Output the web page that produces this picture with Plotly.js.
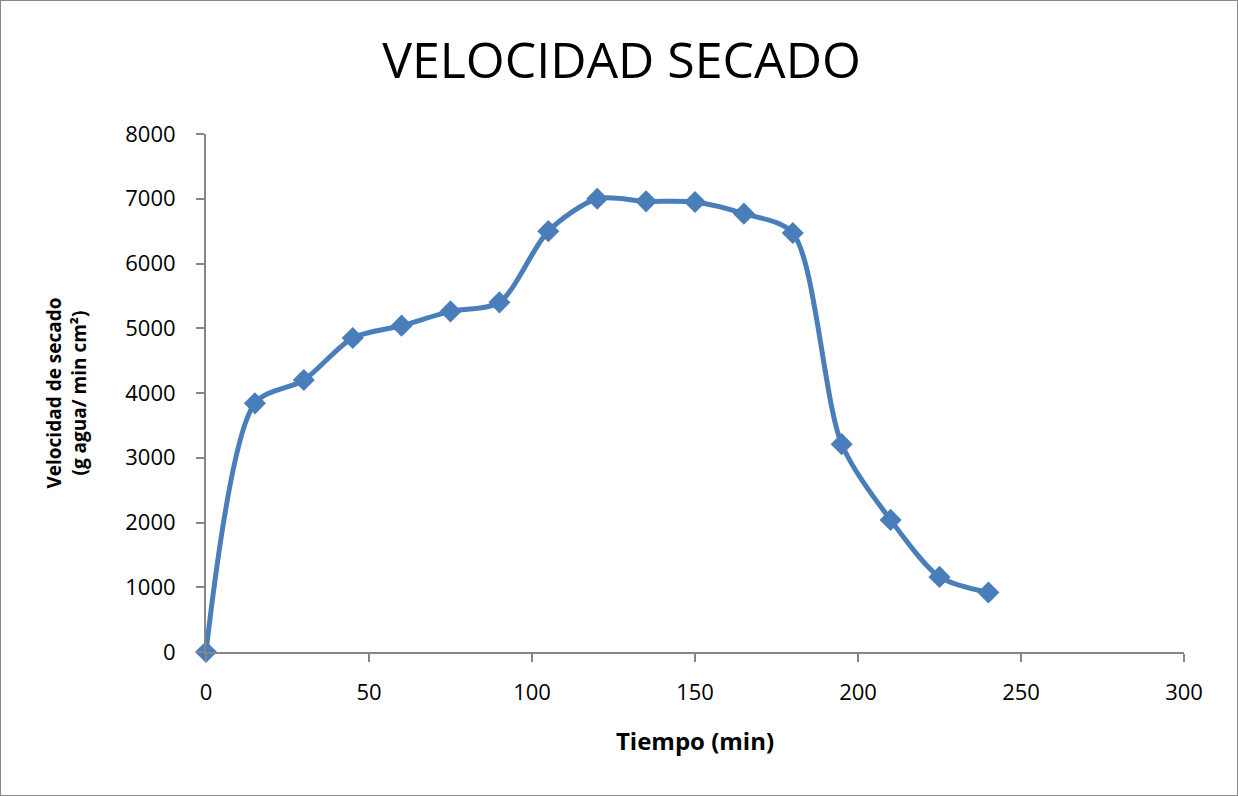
<!DOCTYPE html>
<html>
<head>
<meta charset="utf-8">
<script src="https://cdn.plot.ly/plotly-3.0.1.min.js"></script>
<style>
html,body{margin:0;padding:0;background:#fff;}
#chart{width:1238px;height:796px;box-sizing:border-box;border:1px solid #888;}
</style>
</head>
<body>
<div id="chart"></div>
<script>
const tiempo = [0, 15, 30, 45, 60, 75, 90, 105, 120, 135, 150, 165, 180, 195, 210, 225, 240];
const velocidad = [0, 3840, 4200, 4850, 5040, 5260, 5400, 6500, 7000, 6960, 6950, 6770, 6470, 3210, 2040, 1160, 920];
const xTicks = [0, 50, 100, 150, 200, 250, 300];
const yTicks = [0, 1000, 2000, 3000, 4000, 5000, 6000, 7000, 8000];

const trace = {
  x: tiempo,
  y: velocidad,
  type: 'scatter',
  mode: 'lines+markers',
  line: {color: '#4a7ebb', width: 5, shape: 'spline', smoothing: 0.8},
  marker: {symbol: 'diamond', size: 17, color: '#4a7ebb'},
  cliponaxis: false,
  hoverinfo: 'x+y'
};

const fontFam = '"Open Sans", "Noto Sans", sans-serif';
const layout = {
  width: 1236, height: 794,
  margin: {l: 205, r: 53, t: 133, b: 143},
  paper_bgcolor: '#fff', plot_bgcolor: '#fff',
  showlegend: false,
  title: {text: 'VELOCIDAD SECADO', font: {family: fontFam, size: 50, color: '#000', weight: 'normal'}, x: 0.502, xanchor: 'center', y: 0.925, yanchor: 'middle'},
  xaxis: {
    range: [0, 300], tickvals: xTicks, ticktext: xTicks.map(String),
    showgrid: false, zeroline: false, showline: true, linecolor: '#868686', linewidth: 2,
    ticks: 'outside', ticklen: 8, tickwidth: 2, tickcolor: '#868686', ticklabelstandoff: 12,
    tickfont: {family: fontFam, size: 22, color: '#000'},
    title: {text: '<b>Tiempo (min)</b>', font: {family: fontFam, size: 24, color: '#000'}, standoff: 28}
  },
  yaxis: {
    range: [0, 8000], tickvals: yTicks, ticktext: yTicks.map(String),
    showgrid: false, zeroline: false, showline: true, linecolor: '#868686', linewidth: 2,
    ticks: 'outside', ticklen: 8, tickwidth: 2, tickcolor: '#868686', ticklabelstandoff: 16,
    tickfont: {family: fontFam, size: 22, color: '#000'},
    title: {text: '<b>Velocidad de secado<br>(g agua/ min cm²)</b>', font: {family: fontFam, size: 19, color: '#000'}, standoff: 34}
  }
};

Plotly.newPlot('chart', [trace], layout, {displayModeBar: false, staticPlot: true});
</script>
</body>
</html>
